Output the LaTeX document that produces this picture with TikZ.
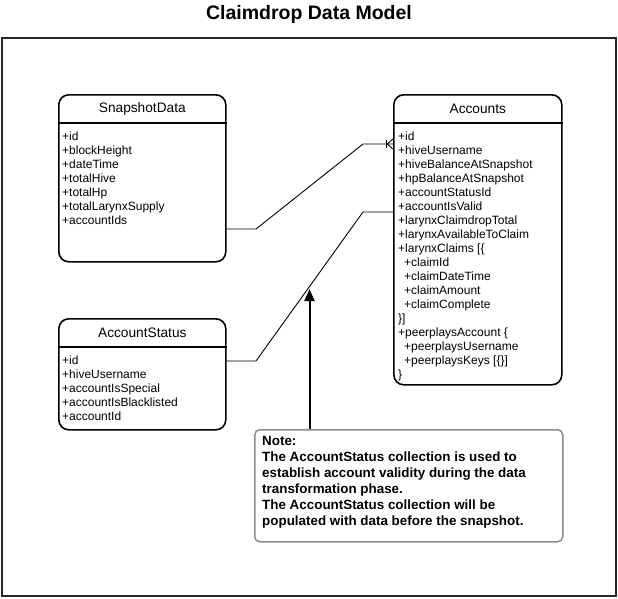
\documentclass[tikz,border=0pt]{standalone}
\usepackage{fontspec}
\setmainfont{Liberation Sans}
\usetikzlibrary{calc,arrows.meta}

\tikzset{
  title/.style={font=\fontsize{19.5}{22}\selectfont\bfseries},
  frame/.style={draw=black!85, line width=2pt},
  entity/.style={draw, line width=1.6pt, rounded corners=10pt, anchor=north west, inner sep=0pt},
  entity line/.style={line width=1.6pt},
  header/.style={font=\fontsize{13.7}{16}\selectfont},
  fields/.style={anchor=north west, align=left, inner sep=0pt, font=\fontsize{12}{14}\selectfont},
  link/.style={black, line width=0.9pt},
  notebox/.style={draw=black!45, line width=1.5pt, rounded corners=5pt, anchor=north west, inner sep=0pt},
  notetext/.style={anchor=north west, align=left, inner sep=0pt, font=\fontsize{13.4}{16}\selectfont\bfseries},
  note arrow/.style={black, line width=2pt, -{Triangle[length=12pt,width=10pt]}},
}
\newcommand{\sub}{\hspace*{6pt}}

\begin{document}
\begin{tikzpicture}[x=1pt, y=-1pt]
    \useasboundingbox (0,0) rectangle (618,598);
    \node [title] (title) at (309,14) {Claimdrop Data Model};
    \draw [frame] (2,38) rectangle (615.5,595.5);

    % entities
    \node [entity] [minimum width=167pt] [minimum height=167pt] (snap) at (58,94) {};
    \node [header] (snaphead) at ($(snap.north)+(0,15)$) {SnapshotData};
    \draw [entity line] ($(snap.north west)+(0,29)$) -- ($(snap.north east)+(0,29)$);
    \node [fields] (snapfields) at (62,132) {+id\\ +blockHeight\\ +dateTime\\ +totalHive\\ +totalHp\\ +totalLarynxSupply\\ +accountIds};

    \node [entity] [minimum width=168pt] [minimum height=290pt] (acc) at (393,94) {};
    \node [header] (acchead) at ($(acc.north)+(0,15)$) {Accounts};
    \draw [entity line] ($(acc.north west)+(0,29)$) -- ($(acc.north east)+(0,29)$);
    \node [fields] (accfields) at (398,132) {+id\\ +hiveUsername\\ +hiveBalanceAtSnapshot\\ +hpBalanceAtSnapshot\\ +accountStatusId\\ +accountIsValid\\ +larynxClaimdropTotal\\ +larynxAvailableToClaim\\ +larynxClaims [\{\\ \sub+claimId\\ \sub+claimDateTime\\ \sub+claimAmount\\ \sub+claimComplete\\ \}]\\ +peerplaysAccount \{\\ \sub+peerplaysUsername\\ \sub+peerplaysKeys [\{\}]\\ \}};

    \node [entity] [minimum width=167pt] [minimum height=111pt] (status) at (58,318) {};
    \node [header] (statushead) at ($(status.north)+(0,15)$) {AccountStatus};
    \draw [entity line] ($(status.north west)+(0,29)$) -- ($(status.north east)+(0,29)$);
    \node [fields] (statusfields) at (62,356) {+id\\ +hiveUsername\\ +accountIsSpecial\\ +accountIsBlacklisted\\ +accountId};

    % note
    \node [notebox] [minimum width=308pt] [minimum height=112pt] (note) at (254,429) {};
    \node [notetext] (notetxt) at (262,436) {Note:\\ The AccountStatus collection is used to\\ establish account validity during the data\\ transformation phase.\\ The AccountStatus collection will be\\ populated with data before the snapshot.};

    % links
    \coordinate (snapOut) at (snap.east |- 0,229);
    \coordinate (accIn) at (acc.west |- 0,144);
    \coordinate (statusOut) at (status.east |- 0,361);
    \coordinate (accValid) at (acc.west |- 0,212);
    \coordinate (noteTip) at (309.5,289);

    \draw [link] (snapOut) -- (256,229) -- (363,144) -- (accIn);
    \draw [link] ($(accIn)+(-7,-4)$) -- ($(accIn)+(-7,4)$);
    \draw [link] ($(accIn)+(-6,0)$) -- ($(accIn)+(0,-5)$);
    \draw [link] ($(accIn)+(-6,0)$) -- ($(accIn)+(0,5)$);
    \draw [link] (statusOut) -- (256,361) -- (363,212) -- (accValid);
    \draw [note arrow] (noteTip |- note.north) -- (noteTip);
\end{tikzpicture}
\end{document}
